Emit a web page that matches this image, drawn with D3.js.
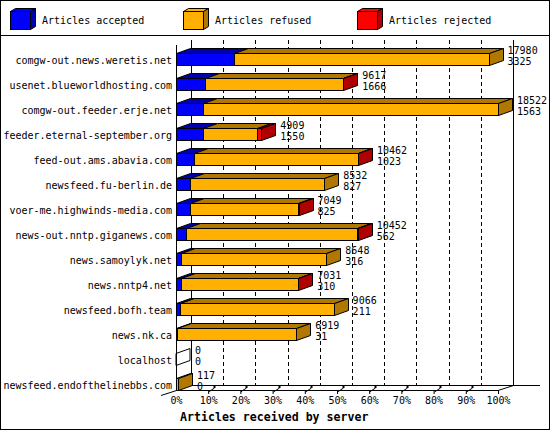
<!DOCTYPE html>
<html><head><meta charset="utf-8">
<script src="https://cdn.jsdelivr.net/npm/d3@7"></script>
<style>body{margin:0;background:#fff}svg{display:block}text{font-family:"DejaVu Sans Mono",monospace}</style>
</head><body><svg id="c" width="550" height="430"></svg>
<script>
const categories = ["comgw-out.news.weretis.net","usenet.blueworldhosting.com","comgw-out.feeder.erje.net","feeder.eternal-september.org","feed-out.ams.abavia.com","newsfeed.fu-berlin.de","voer-me.highwinds-media.com","news-out.nntp.giganews.com","news.samoylyk.net","news.nntp4.net","newsfeed.bofh.team","news.nk.ca","localhost","newsfeed.endofthelinebbs.com"];
const offered  = [17980, 9617, 18522, 4909, 10462, 8532, 7049, 10452, 8648, 7031, 9066, 6919, 0, 117];
const accepted = [3325, 1666, 1563, 1550, 1023, 827, 825, 562, 316, 310, 211, 31, 0, 0];
const refused  = [14655, 7936, 16959, 3099, 9419, 7705, 6194, 9865, 8332, 6701, 8855, 6888, 0, 117];
const rejected = [0, 15, 0, 260, 20, 0, 30, 25, 0, 20, 0, 0, 0, 0];
const seriesNames = ["Articles accepted","Articles refused","Articles rejected"];
const pctTicks = [0,10,20,30,40,50,60,70,80,90,100];
const xTitle = "Articles received by server";

const colors = ["#0000ff","#ffb000","#ff0000"];
const darks  = ["#0000b0","#b07800","#b00000"];

const svg = d3.select("#c");
const W = 550, H = 430;
svg.append("rect").attr("x",0.5).attr("y",0.5).attr("width",W-1).attr("height",H-1).attr("fill","#fff").attr("stroke","#000");
svg.append("line").attr("x1",0).attr("x2",W).attr("y1",35.5).attr("y2",35.5).attr("stroke","#000");

// legend
const legX = [10,183,357];
seriesNames.forEach((n,i)=>{
  const g = svg.append("g").attr("transform",`translate(${legX[i]},0)`);
  const x0=0.5,y0=11.5,w=20,h=18,dx=5,dy=-3;
  g.append("polygon").attr("points",`${x0},${y0} ${x0+dx},${y0+dy} ${x0+w+dx},${y0+dy} ${x0+w},${y0}`).attr("fill",colors[i]).attr("stroke","#000");
  g.append("polygon").attr("points",`${x0+w},${y0} ${x0+w+dx},${y0+dy} ${x0+w+dx},${y0+h+dy} ${x0+w},${y0+h}`).attr("fill",darks[i]).attr("stroke","#000");
  g.append("rect").attr("x",x0).attr("y",y0).attr("width",w).attr("height",h).attr("fill",colors[i]).attr("stroke","#000");
  g.append("text").attr("x",32).attr("y",24).attr("font-size",10).text(n);
});

const maxV = d3.max(offered);
const x = d3.scaleLinear().domain([0,maxV]).range([176,498]);
const xp = d3.scaleLinear().domain([0,100]).range([176,498]);
const y = d3.scaleBand().domain(categories).range([40,390]).padding(0);
const DX = 15, DY = -5, BDX = 14, BH = 12;

// back wall
const back = svg.append("g").attr("shape-rendering","crispEdges");
back.selectAll(".grid").data(pctTicks.slice(1,-1)).join("line")
  .attr("x1",d=>Math.round(xp(d)+DX)+0.5).attr("x2",d=>Math.round(xp(d)+DX)+0.5)
  .attr("y1",40).attr("y2",385).attr("stroke","#000").attr("stroke-dasharray","4,3");
back.append("line").attr("x1",191.5).attr("x2",191.5).attr("y1",40).attr("y2",385).attr("stroke","#000");
back.append("line").attr("x1",513.5).attr("x2",513.5).attr("y1",40).attr("y2",385).attr("stroke","#000");
back.append("line").attr("x1",191).attr("x2",540).attr("y1",385.5).attr("y2",385.5).attr("stroke","#000");

// front axis
const ax = svg.append("g");
ax.append("line").attr("x1",176.5).attr("x2",176.5).attr("y1",45).attr("y2",390).attr("stroke","#000").attr("shape-rendering","crispEdges");
ax.append("line").attr("x1",176).attr("x2",498).attr("y1",390.5).attr("y2",390.5).attr("stroke","#000").attr("shape-rendering","crispEdges");
ax.append("line").attr("x1",498).attr("y1",390.5).attr("x2",513.5).attr("y2",385.5).attr("stroke","#000");
ax.append("line").attr("x1",161).attr("y1",395.5).attr("x2",176.5).attr("y2",390.5).attr("stroke","#000");

// bars
const data = categories.map((c,i)=>({c,i,vals:[accepted[i],refused[i],rejected[i]]}));
data.forEach(d=>{
  const g = svg.append("g");
  const yt = y(d.c)+13.5;
  let cum = 0;
  const segs = [];
  d.vals.forEach((v,k)=>{ if(v>0){ segs.push({k,x0:x(cum),x1:x(cum+v)}); } cum+=v; });
  if(segs.length===0){
    const x0 = x(0);
    g.append("polygon").attr("points",`${x0},${yt} ${x0+BDX},${yt+DY} ${x0+BDX},${yt+BH+DY} ${x0},${yt+BH}`).attr("fill","none").attr("stroke","#000");
  }
  segs.forEach((s,j)=>{
    const x0 = Math.round(s.x0)+0.5, x1 = Math.round(s.x1)+0.5;
    g.append("polygon").attr("points",`${x0},${yt} ${x0+BDX},${yt+DY} ${x1+BDX},${yt+DY} ${x1},${yt}`).attr("fill",darks[s.k]).attr("stroke","#000");
    g.append("rect").attr("x",x0).attr("y",yt).attr("width",Math.max(0,x1-x0)).attr("height",BH).attr("fill",colors[s.k]).attr("stroke","#000");
    if(j===segs.length-1){
      g.append("polygon").attr("points",`${x1},${yt} ${x1+BDX},${yt+DY} ${x1+BDX},${yt+BH+DY} ${x1},${yt+BH}`).attr("fill",darks[s.k]).attr("stroke","#000");
    }
  });
  const xe = x(cum) + 19;
  g.append("text").attr("x",xe).attr("y",yt).attr("font-size",10).text(offered[d.i]);
  g.append("text").attr("x",xe).attr("y",yt+11).attr("font-size",10).text(accepted[d.i]);
  svg.append("text").attr("x",172).attr("y",yt+10).attr("text-anchor","end").attr("font-size",10).text(d.c);
});

// x axis labels and ticks
const xAxis = d3.axisBottom(xp).tickValues(pctTicks).tickFormat(d=>d+"%").tickSize(4).tickPadding(4);
const axg = svg.append("g").attr("transform","translate(0,390)").call(xAxis);
axg.select(".domain").remove();
axg.selectAll(".tick line").filter(d=>d===0).remove();
axg.selectAll(".tick text").attr("font-family","DejaVu Sans Mono").attr("font-size",10).attr("fill","#000").attr("dy","0.6em");
const t3 = svg.append("g");
pctTicks.slice(1,-1).forEach(p=>{
  const px = Math.round(xp(p))+0.5;
  t3.append("line").attr("x1",px).attr("y1",392).attr("x2",px+6).attr("y2",388).attr("stroke","#000");
  t3.append("rect").attr("x",px+5).attr("y",386).attr("width",2).attr("height",2).attr("fill","#000");
});
svg.append("text").attr("x",180).attr("y",421).attr("font-size",11.6).attr("font-weight","bold").text(xTitle);
</script></body></html>
